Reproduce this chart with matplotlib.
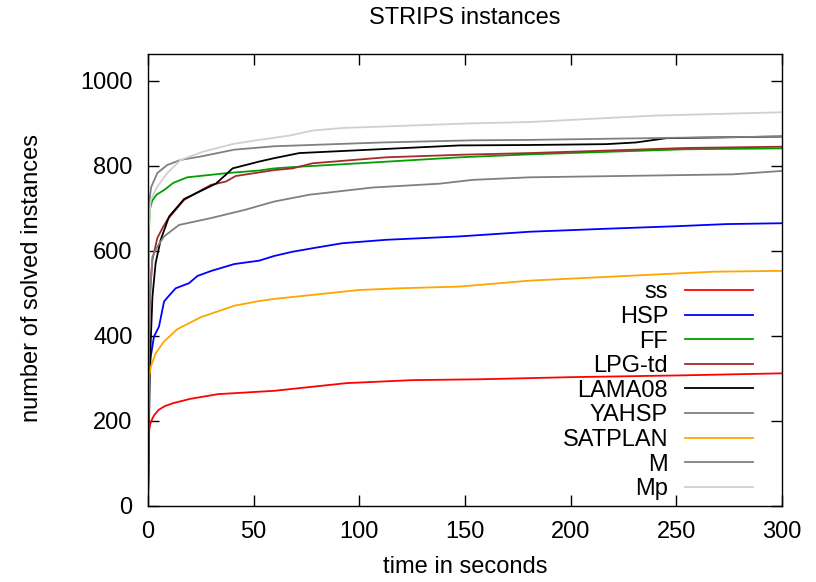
import matplotlib
matplotlib.use("Agg")
import matplotlib.pyplot as plt
from matplotlib.lines import Line2D

plt.rcParams['font.family'] = ['Liberation Sans', 'DejaVu Sans']

# ---- data ----
ss_t = [0, 0.2, 0.4, 0.6, 1, 2, 3, 5, 8, 12, 20, 33, 60, 94, 125, 157, 200, 250, 300]
ss_y = [0, 60, 150, 180, 192, 205, 214, 226, 235, 242, 252, 263, 271, 289, 296, 298, 303, 307, 312]

hsp_t = [0, 0.2, 0.5, 1.3, 2.8, 5.2, 7.6, 10, 13.1, 19.4, 23.4, 30, 40.8, 52.6, 59.7,
         68.4, 80, 92, 112.6, 147.4, 180.6, 216.8, 250, 273.7, 300]
hsp_y = [0, 150, 300, 351, 398, 422, 481, 495, 512, 524, 541, 553, 569, 577, 588,
         598, 608, 618, 626, 634, 645, 652, 658, 663, 665]

ff_t = [0, 0.1, 0.3, 0.6, 1, 2, 4, 7.6, 12, 18.6, 37.6, 52.6, 59.7, 68.4, 100, 147.4, 180.6, 254.8, 300]
ff_y = [0, 450, 600, 670, 700, 718, 732, 743, 760, 773, 783, 789, 794, 797, 806, 820, 827, 839, 841]

lpg_t = [0, 0.3, 0.7, 1.2, 2.1, 2.8, 4.4, 7, 9.1, 17.1, 29.7, 36.8, 41.5, 59.7, 68.4,
         77.9, 112.6, 147.4, 180.6, 254.8, 300]
lpg_y = [0, 300, 450, 520, 580, 595, 630, 655, 673, 720, 755, 763, 776, 790, 794,
         806, 820, 826, 830, 842, 845]

lama_t = [0, 0.5, 1, 2.1, 3.6, 6, 10, 17.1, 32.1, 36.8, 40, 52.6, 59.7, 71.6, 147.4,
          180.6, 216.8, 231, 245.3, 300]
lama_y = [0, 200, 350, 492, 571, 626, 681, 722, 758, 779, 794, 810, 818, 830, 848,
          849, 851, 855, 865, 869]

yahsp_t = [0, 0.1, 0.5, 1.5, 4.4, 9.1, 15.5, 25, 40.8, 59.7, 111, 153.7, 180.6, 250, 300]
yahsp_y = [0, 500, 712, 750, 783, 802, 814, 822, 838, 846, 855, 860, 861, 866, 869]

sat_t = [0, 0.2, 0.5, 1.5, 3.6, 7.6, 13.9, 25, 40.8, 52.6, 59.7, 100, 119, 147.4, 180.6, 267.4, 300]
sat_y = [0, 200, 304, 330, 359, 387, 416, 444, 471, 482, 487, 508, 512, 516, 530, 551, 553]

m_t = [0, 0.3, 0.8, 2.1, 4.4, 7.6, 14.7, 29.7, 45.5, 52.6, 59.7, 76.3, 106.3, 137.9,
       153.7, 180.6, 276.8, 300]
m_y = [0, 300, 480, 586, 610, 634, 661, 677, 696, 706, 716, 732, 749, 758,
       767, 773, 780, 788]

mp_t = [0, 0.1, 0.3, 1.3, 4.4, 9.1, 15.5, 26.5, 40.8, 52.6, 66.8, 77.9, 92, 153.7,
        180.6, 238.9, 300]
mp_y = [0, 400, 650, 720, 751, 783, 814, 834, 852, 861, 871, 883, 889, 900,
        903, 918, 926]

labels = ["ss", "HSP", "FF", "LPG-td", "LAMA08", "YAHSP", "SATPLAN", "M", "Mp"]
colors = ["#ff0000", "#0000ff", "#00a000", "#a52a2a", "#000000", "#808080",
          "#ffa500", "#808080", "#d0d0d0"]
series = [(ss_t, ss_y), (hsp_t, hsp_y), (ff_t, ff_y), (lpg_t, lpg_y), (lama_t, lama_y),
          (yahsp_t, yahsp_y), (sat_t, sat_y), (m_t, m_y), (mp_t, mp_y)]

xticks = [0, 50, 100, 150, 200, 250, 300]
yticks = [0, 200, 400, 600, 800, 1000]

W, H = 816, 582
fig = plt.figure(figsize=(W / 100, H / 100), dpi=100)
L, R, T, B = 148, 782, 54, 506
ax = fig.add_axes([L / W, 1 - B / H, (R - L) / W, (B - T) / H])

for (t, y), c in zip(series, colors):
    ax.plot(t, y, color=c, lw=1.3, solid_joinstyle='round')

ax.set_xlim(0, 300)
ax.set_ylim(0, 1063)
ax.set_xticks(xticks)
ax.set_yticks(yticks)
fs = 17
ax.tick_params(direction='in', length=8, width=1, top=True, right=True,
               labelsize=fs, color='black')
ax.tick_params(axis='y', pad=11)
ax.tick_params(axis='x', pad=11)
for s in ax.spines.values():
    s.set_linewidth(1.0)

# legend (gnuplot style: right-aligned text, sample line to the right)
ah = B - T
aw = R - L
for i, (lab, c) in enumerate(zip(labels, colors)):
    py = 290 + i * 24.6
    yf = (B - py) / ah
    ax.text((668 - L) / aw, yf - 8.4 / ah, lab, transform=ax.transAxes,
            ha='right', va='baseline', fontsize=fs)
    ax.add_line(Line2D([(685 - L) / aw, (753 - L) / aw], [yf, yf],
                       transform=ax.transAxes, color=c, lw=1.3))

fig.text((L + R) / 2 / W, 1 - 18 / H, "STRIPS instances", ha='center', va='center', fontsize=fs)
fig.text((L + R) / 2 / W, 1 - 567 / H, "time in seconds", ha='center', va='center', fontsize=fs)
fig.text(32 / W, 1 - 278 / H, "number of solved instances", ha='center', va='center',
         rotation=90, fontsize=fs)

fig.savefig("out.png", dpi=100)
